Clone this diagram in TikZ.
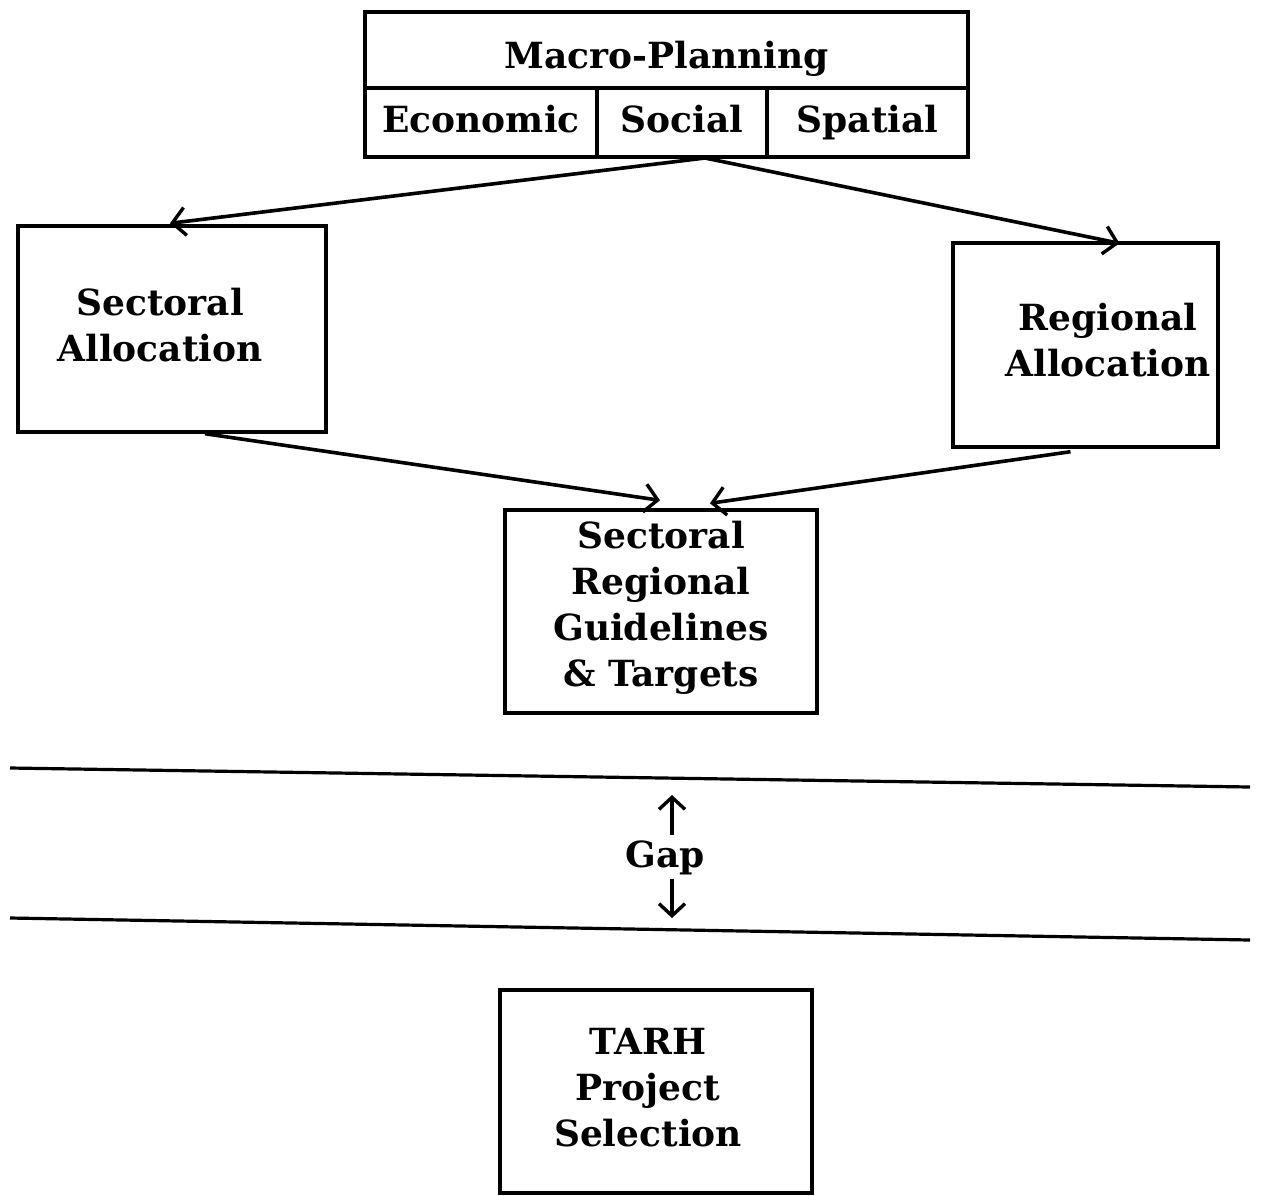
\documentclass[tikz,border=0pt]{standalone}
\usepackage{fontspec}
\setmainfont{DejaVu Serif}
\usetikzlibrary{arrows.meta,calc}
\begin{document}
\begin{tikzpicture}[x=1pt,y=-1pt,
  txt/.style={font=\bfseries\fontsize{36}{46}\selectfont,align=center,inner sep=0pt},
  box/.style={draw,line width=3.4pt,inner sep=0pt,txt},
  cell/.style={box,minimum height=69pt,text height=27pt,text depth=8pt},
  conn/.style={line width=3.6pt,-{Straight Barb[length=13pt,width=28pt,line width=3.4pt]}},
  gaparrow/.style={line width=3.4pt,-{Straight Barb[length=12pt,width=26pt,line width=3.4pt]}},
  rule/.style={line width=3.2pt}]
\useasboundingbox (0,0) rectangle (1274,1195);

% Macro-planning header with its three parts
\node[box,minimum width=603pt,minimum height=76pt,text height=36pt,text depth=0pt] (macro) at (666.5,50) {Macro-Planning};
\node[cell,minimum width=232pt] (econ) at (481,122.5) {Economic};
\node[cell,minimum width=170pt] (social) at (682,122.5) {Social};
\node[cell,minimum width=201pt] (spatial) at (867.5,122.5) {Spatial};

% allocation boxes
\node[box,minimum width=308pt,minimum height=206pt] (sect) at (172,329) {};
\node[txt] (secttext) at (160,325) {Sectoral\\Allocation};
\node[box,minimum width=265pt,minimum height=204pt] (reg) at (1085.5,345) {};
\node[txt] (regtext) at (1108,340) {Regional\\Allocation};

% guidelines box
\node[box,minimum width=312pt,minimum height=203pt] (guide) at (661,611.5) {};
\node[txt] (guidetext) at (661,608) {Sectoral\\Regional\\Guidelines\\\&\ Targets};

% project selection box
\node[box,minimum width=312pt,minimum height=203pt] (tarh) at (656,1091.5) {};
\node[txt] (tarhtext) at (648,1088) {TARH\\Project\\Selection};

% connectors
\coordinate (split) at (705,158);
\draw[conn] (split) -- ($(sect.north)+(-2,-1)$);
\draw[conn] (split) -- ($(reg.north)+(34,2)$);
\draw[conn] ($(sect.south)+(33,0)$) -- ($(guide.north)+(-1,-8)$);
\draw[conn] ($(reg.south)+(-15,3)$) -- ($(guide.north)+(49,-5)$);

% gap between the two levels
\coordinate (r1a) at (10,768);
\coordinate (r1b) at (1250,787);
\coordinate (r2a) at (10,918);
\coordinate (r2b) at (1250,940);
\draw[rule] (r1a) -- (r1b);
\draw[rule] (r2a) -- (r2b);
\node[txt] (gap) at (665,858) {Gap};
\coordinate (gapup) at (672,795);
\coordinate (gapdown) at (672,918);
\draw[gaparrow] ($(gap.north)+(7,-6)$) -- (gapup);
\draw[gaparrow] ($(gap.south)+(7,4)$) -- (gapdown);
\end{tikzpicture}
\end{document}
